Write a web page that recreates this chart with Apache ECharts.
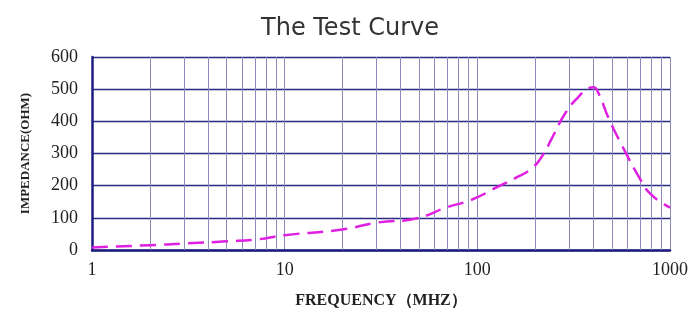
<!DOCTYPE html>
<html><head><meta charset="utf-8">
<script src="https://cdn.jsdelivr.net/npm/echarts@6/dist/echarts.min.js"></script>
<style>html,body{margin:0;padding:0;background:#fff}#c{width:700px;height:325px}</style>
</head><body><div id="c"></div>
<script>
const titleText = 'The Test Curve';
const xName = 'FREQUENCY（MHZ）';
const yName = 'IMPEDANCE(OHM)';
const frequency = [1, 2, 3, 5, 7, 10, 20, 30, 48, 69, 94, 129, 158, 192, 217, 244, 286, 336, 378, 401, 426, 480, 585, 687, 789, 1000];
const impedance = [8, 15, 20, 27, 32, 46, 64, 85, 98, 132, 157, 198, 224, 254, 292, 348, 425, 477, 503, 506, 487, 410, 306, 229, 175, 132];
const minorGrid = [2,3,4,5,6,7,8,9,20,30,40,50,60,70,80,90,200,300,400,500,600,700,800,900];

const chart = echarts.init(document.getElementById('c'), null, {renderer: 'canvas'});
const serif = '"Liberation Serif", "DejaVu Serif", serif';
chart.setOption({
  animation: false,
  title: {text: titleText, left: 'center', top: 12,
    textStyle: {fontFamily: '"DejaVu Sans", sans-serif', fontSize: 24, fontWeight: 'normal', color: '#333'}},
  grid: {left: 92, right: 30, top: 57, bottom: 75},
  xAxis: {
    type: 'log', logBase: 10, min: 1, max: 1000,
    name: xName, nameLocation: 'middle', nameGap: 43,
    nameTextStyle: {fontFamily: serif, fontSize: 16, fontWeight: 'bold', color: '#222'},
    axisLine: {show: true, lineStyle: {color: '#1c1c80', width: 2.5}},
    axisTick: {show: false},
    axisLabel: {fontFamily: serif, fontSize: 18, color: '#222', margin: 11,
      formatter: v => String(Math.round(v))},
    splitLine: {show: true, lineStyle: {color: '#8a8abf', width: 1}}
  },
  yAxis: {
    type: 'value', min: 0, max: 600, interval: 100,
    name: yName, nameLocation: 'middle', nameGap: 60,
    nameTextStyle: {fontFamily: serif, fontSize: 13, fontWeight: 'bold', color: '#222'},
    axisLine: {show: true, lineStyle: {color: '#1c1c80', width: 2.5}},
    axisTick: {show: false},
    axisLabel: {fontFamily: serif, fontSize: 18, color: '#222', margin: 14},
    splitLine: {show: true, lineStyle: {color: '#2a2a85', width: 1.3}}
  },
  series: [
    {
      type: 'line', data: [], silent: true,
      markLine: {silent: true, symbol: 'none', label: {show: false},
        lineStyle: {color: '#8a8abf', width: 1, type: 'solid'},
        data: minorGrid.map(v => ({xAxis: v}))}
    },
    {
      type: 'line', smooth: 0.5, showSymbol: false,
      data: frequency.map((f, i) => [f, impedance[i]]),
      lineStyle: {color: '#e020e0', width: 2.5, type: [16, 8]},
      z: 5
    }
  ]
});
</script></body></html>
